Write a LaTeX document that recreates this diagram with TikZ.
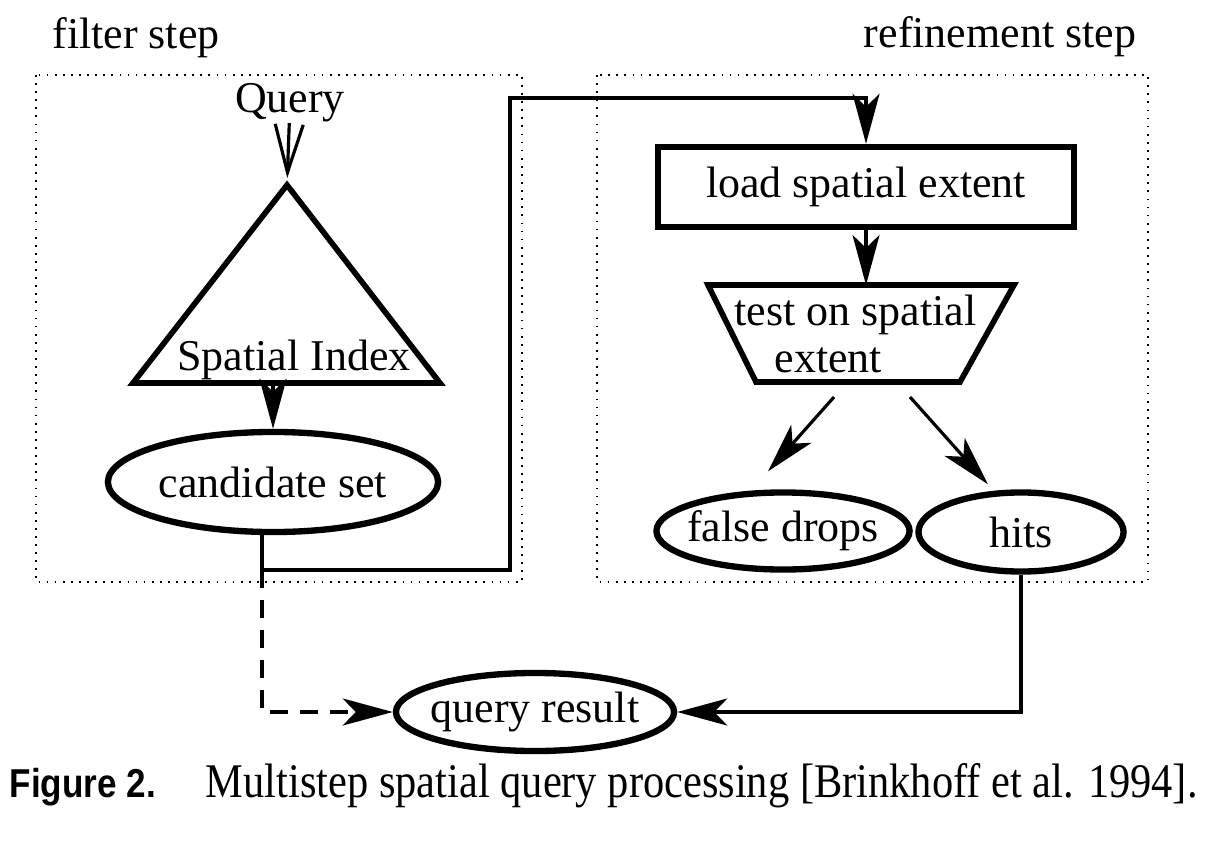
\documentclass[tikz,border=0pt]{standalone}
\usepackage{fontspec}
\setmainfont{Liberation Serif}
\setsansfont{Liberation Sans}
\usetikzlibrary{arrows.meta,calc,shapes.geometric}

\begin{document}
\begin{tikzpicture}[
    x=0.01cm, y=-0.01cm,
    every node/.style={font=\fontsize{12.5}{13.4}\selectfont, inner sep=0pt},
    stage/.style={draw, line width=0.5pt, dash pattern=on 0.5pt off 1.8pt},
    outline/.style={line width=1.6pt, line join=miter},
    proc/.style={draw, rectangle, line width=1.8pt, minimum width=4.16cm, minimum height=0.8cm},
    oval/.style={draw, ellipse, line width=1.8pt},
    link/.style={line width=0.9pt},
    rel/.style={link, -{Stealth[length=5mm, width=2.7mm, inset=1.3mm]}},
    qarrow/.style={link, -{Straight Barb[length=4.8mm, width=2.8mm]}},
    dashlink/.style={rel, dash pattern=on 1.8mm off 1.2mm}
]
    \useasboundingbox (0,0) rectangle (1207,840);

    % Stages
    \draw[stage] (36,75) rectangle (522,582);
    \draw[stage] (597,75) rectangle (1148,582);
    \node[anchor=base] (filter) at (136,49) {filter step};
    \node[anchor=base] (refine) at (1000,48) {refinement step};

    % Filter step
    \node[anchor=base] (query) at (290,113) {Query};
    \coordinate (idxtop) at (287,185);
    \coordinate (idxbot) at (273,383);
    \draw[outline] (idxtop) -- (440,383) -- (133,383) -- cycle;
    \node[anchor=base] (index) at (294,370) {Spatial Index};
    \node[oval, minimum width=3.3cm, minimum height=1.0cm] (cand) at (273,482) {\makebox[0pt]{candidate set}};

    % Refinement step
    \node[proc] (load) at (866,187) {load spatial extent};
    \draw[outline] (708,285) coordinate (tl) -- (1014,285) coordinate (tr)
        -- (960,382) coordinate (br) -- (756,382) coordinate (bl) -- cycle;
    \node[anchor=west, align=left] (test) at (734,334) {test on spatial\\\hspace*{0.4cm}extent};
    \node[oval, minimum width=2.53cm, minimum height=0.77cm] (drops) at (783,531) {\makebox[0pt]{false drops}};
    \node[oval, minimum width=2.05cm, minimum height=0.79cm] (hits) at (1021,532) {\makebox[0pt]{hits}};

    % Result
    \node[oval, minimum width=2.78cm, minimum height=0.78cm] (result) at (535,712) {\makebox[0pt]{query result}};
    \node[anchor=base west] (caption) at (9,797) {\scalebox{1}[1.15]{\resizebox{1.46cm}{!}{\sffamily\bfseries Figure 2.}}\hspace{0.5cm}\scalebox{1.01}[1.15]{\fontsize{11.95}{14}\selectfont Multistep spatial query processing [Brinkhoff et al. 1994].}};

    % Connectors
    \coordinate (split) at (262,570);
    \coordinate (bend) at (510,98);
    \draw[qarrow, shorten >=0.07cm] (query) -- (idxtop);
    \draw[rel] (idxbot) -- (cand);
    \draw[rel] (cand.south -| split) -- (split) -| (bend) -| (load.north);
    \draw[rel] (load.south) -- (load.south |- tl);
    \draw[rel] ($(bl)+(78,15)$) -- ($(drops.north)+(-15,-18)$);
    \draw[rel] ($(br)+(-50,15)$) -- ($(hits.north)+(-33,-5)$);
    \draw[rel] (hits.south) |- (result.east);
    \draw[dashlink] (split) |- (result.west);
\end{tikzpicture}
\end{document}
